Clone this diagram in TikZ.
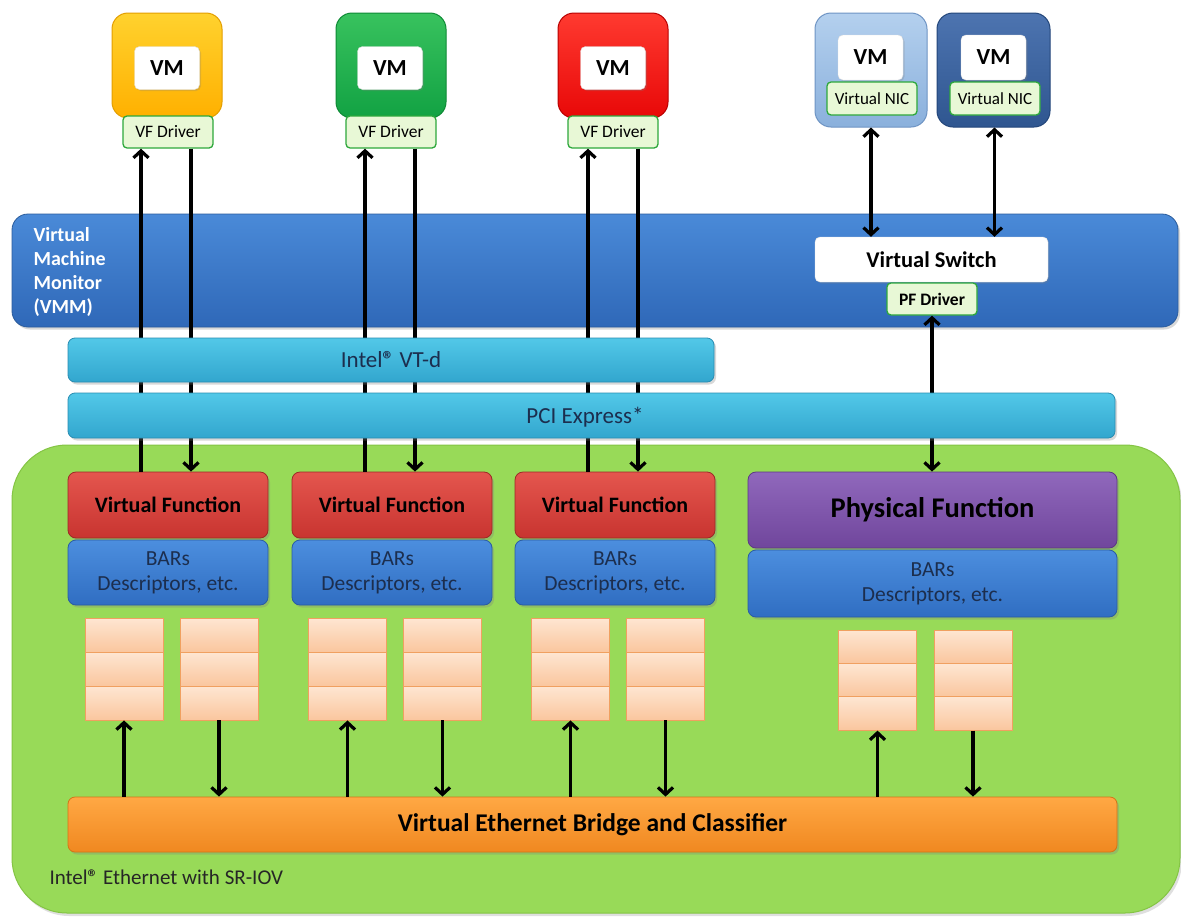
\documentclass[tikz,border=0pt]{standalone}
\usepackage{fontspec}
\setmainfont{Carlito}
\usetikzlibrary{arrows.meta,shadows}
\definecolor{ylwT}{HTML}{FFD22E}\definecolor{ylwB}{HTML}{FFB000}\definecolor{ylwD}{HTML}{E39E00}
\definecolor{grnT}{HTML}{38C25E}\definecolor{grnB}{HTML}{12A243}\definecolor{grnD}{HTML}{0E8A35}
\definecolor{redT}{HTML}{FF3A30}\definecolor{redB}{HTML}{E80808}\definecolor{redD}{HTML}{B80000}
\definecolor{lbT}{HTML}{B4D0EE}\definecolor{lbB}{HTML}{8AB0DC}\definecolor{lbD}{HTML}{6E94C4}
\definecolor{dbT}{HTML}{4D74B0}\definecolor{dbB}{HTML}{2F5690}\definecolor{dbD}{HTML}{23467A}
\definecolor{drvF}{HTML}{E8F8D6}\definecolor{drvD}{HTML}{2EA83C}
\definecolor{vmmT}{HTML}{4A8AD8}\definecolor{vmmB}{HTML}{2F68B8}\definecolor{vmmD}{HTML}{2B5C9C}
\definecolor{cyT}{HTML}{52C8E8}\definecolor{cyB}{HTML}{32A6CE}\definecolor{cyD}{HTML}{2A8DB2}
\definecolor{bgF}{HTML}{98DA58}\definecolor{bgD}{HTML}{84C444}
\definecolor{vfT}{HTML}{E4564E}\definecolor{vfB}{HTML}{C83430}\definecolor{vfD}{HTML}{9C2A26}
\definecolor{brT}{HTML}{4C8EDE}\definecolor{brB}{HTML}{306EC2}\definecolor{brD}{HTML}{2A5CA4}
\definecolor{pfT}{HTML}{9068BC}\definecolor{pfB}{HTML}{70469C}\definecolor{pfD}{HTML}{5C3884}
\definecolor{clT}{HTML}{FEE6D2}\definecolor{clB}{HTML}{FAC69E}\definecolor{clD}{HTML}{F0A060}
\definecolor{orT}{HTML}{FFA844}\definecolor{orB}{HTML}{F08820}\definecolor{orD}{HTML}{D47416}
\definecolor{navytxt}{HTML}{1C2E4E}
\newcommand{\regmark}{{\bfseries ®}}
\begin{document}
\begin{tikzpicture}[x=1pt,y=-1pt,
  box/.style={inner sep=0pt, rounded corners=#1},
  vmbox/.style args={#1/#2/#3}{box=16pt, top color=#1, bottom color=#2, draw=#3, line width=1pt,
     minimum width=110pt, minimum height=105pt},
  vmlabel/.style={box=5pt, fill=white, draw=black!12, minimum width=65pt, minimum height=43pt,
     font=\fontsize{23}{27}\selectfont\bfseries, drop shadow={opacity=0.25,shadow xshift=1.5pt,shadow yshift=-1.5pt}},
  drvbox/.style={box=4pt, fill=drvF, draw=drvD, line width=1.3pt, minimum width=90pt, minimum height=32pt,
     font=\fontsize{17.5}{20}\selectfont},
  bar/.style args={#1/#2/#3}{top color=#1, bottom color=#2, draw=#3, line width=0.8pt,
     drop shadow={opacity=0.3,shadow xshift=2pt,shadow yshift=-2.5pt}},
  vfbox/.style={box=8pt, bar=vfT/vfB/vfD, minimum width=200pt, minimum height=66pt,
     font=\fontsize{22}{26}\selectfont\bfseries},
  barsbox/.style={box=8pt, bar=brT/brB/brD, minimum width=200pt, minimum height=65pt, align=center,
     text=navytxt, font=\fontsize{21.5}{25}\selectfont},
  cell/.style={inner sep=0pt, top color=clT, bottom color=clB, draw=clD, line width=0.8pt,
     minimum width=78pt, minimum height=#1},
  arr/.style={line width=3.2pt, -{Straight Barb[length=7pt,width=15pt]}},
  darr/.style={line width=3.2pt, {Straight Barb[length=7pt,width=15pt]}-{Straight Barb[length=7pt,width=15pt]}}]
\useasboundingbox[fill=white] (0,0) rectangle (1181,916);

% ---- VMM layer
\node[box=16pt, bar=vmmT/vmmB/vmmD, minimum width=1166pt, minimum height=113pt] (vmm) at (595,270.5) {};
\node[anchor=west, align=left, text=white, font=\fontsize{20}{24}\selectfont\bfseries] (vmmtxt) at (30,272)
  {Virtual\\Machine\\Monitor\\(VMM)};

% ---- VMs with VF drivers
\node[vmbox=ylwT/ylwB/ylwD] (vm1) at (167,65.5) {};
\node[vmbox=grnT/grnB/grnD] (vm2) at (391,65.5) {};
\node[vmbox=redT/redB/redD] (vm3) at (613,65.5) {};
\node[vmlabel] (vl1) at (167,68) {VM};
\node[vmlabel] (vl2) at (390,68) {VM};
\node[vmlabel] (vl3) at (613,68) {VM};
\node[drvbox] (drv1) at (168,132) {VF Driver};
\node[drvbox] (drv2) at (391,132) {VF Driver};
\node[drvbox] (drv3) at (613,132) {VF Driver};

% ---- VMs with virtual NICs
\node[vmbox=lbT/lbB/lbD, minimum width=112pt, minimum height=114pt] (vm4) at (871,70) {};
\node[vmbox=dbT/dbB/dbD, minimum width=113pt, minimum height=114pt] (vm5) at (993.5,70) {};
\node[vmlabel, minimum height=45pt] (vl4) at (870.5,57.5) {VM};
\node[vmlabel, minimum height=45pt] (vl5) at (993.5,57.5) {VM};
\node[drvbox, minimum height=33pt, font=\fontsize{17}{20}\selectfont] (nic1) at (872,98.5) {Virtual NIC};
\node[drvbox, minimum height=33pt, font=\fontsize{17}{20}\selectfont] (nic2) at (995,98.5) {Virtual NIC};

\node[box=5pt, fill=white, draw=black!12, minimum width=233pt, minimum height=45pt,
  font=\fontsize{22.5}{26}\selectfont\bfseries,
  drop shadow={opacity=0.25,shadow xshift=1.5pt,shadow yshift=-1.5pt}] (vsw) at (931.5,259.5) {Virtual Switch};
\node[drvbox, font=\fontsize{17.5}{20}\selectfont\bfseries] (pfd) at (932,299) {PF Driver};

% ---- NIC hardware
\node[box=55pt, fill=bgF, draw=bgD, line width=1pt, minimum width=1168pt, minimum height=468pt,
  drop shadow={opacity=0.25,shadow xshift=2pt,shadow yshift=-3pt}] (nic) at (596,679) {};
\node[anchor=west, font=\fontsize{21}{24}\selectfont, text=black!85] (niclbl) at (46,877) {Intel\regmark{} Ethernet with SR-IOV};

\node[vfbox] (vf1) at (168,505) {Virtual Function};
\node[vfbox] (vf2) at (392,505) {Virtual Function};
\node[vfbox] (vf3) at (615,505) {Virtual Function};
\node[barsbox] (bars1) at (168,572.5) {BARs\\Descriptors, etc.};
\node[barsbox] (bars2) at (392,572.5) {BARs\\Descriptors, etc.};
\node[barsbox] (bars3) at (615,572.5) {BARs\\Descriptors, etc.};
\node[box=8pt, bar=pfT/pfB/pfD, minimum width=369pt, minimum height=76pt,
  font=\fontsize{28.5}{32}\selectfont\bfseries] (pf) at (932.5,510) {Physical Function};
\node[barsbox, minimum width=369pt, minimum height=67pt] (pfbars) at (932.5,583.5) {BARs\\Descriptors, etc.};

% queues
\foreach \n/\x/\y/\h in {a/124/618/34, b/219/618/34, c/347.5/618/34, d/442.5/618/34,
    e/570.5/618/34, f/665.5/618/34, g/877.5/630/33.4, h/973/630/33.4} {
  \foreach \k in {0,1,2} {
    \node[cell=\h pt] (q\n\k) at (\x,{\y+\h/2+\h*\k}) {};
  }
}

\node[box=7pt, bar=orT/orB/orD, minimum width=1049pt, minimum height=55pt,
  font=\fontsize{25.5}{28}\selectfont\bfseries] (veb) at (592.5,824.5) {Virtual Ethernet Bridge and Classifier};

% ---- PF path (partly hidden by PCI Express bar)
\draw[darr] (pfd.south) -- (pfd.south |- pf.north);

% ---- VF data paths (passing behind VT-d and PCI Express bars)
\foreach \i in {1,2,3} {
  \coordinate (up\i) at ([xshift=-27pt]vf\i.north);
  \coordinate (dn\i) at ([xshift=23pt]vf\i.north);
  \draw[arr] (up\i) -- (up\i |- drv\i.south);
  \draw[arr] (dn\i |- drv\i.south) -- (dn\i);
}

% ---- VT-d and PCI Express
\node[box=7pt, bar=cyT/cyB/cyD, minimum width=646pt, minimum height=44pt,
  font=\fontsize{23}{26}\selectfont, text=navytxt] (vtd) at (391,360) {Intel\regmark{} VT-d};
\node[box=7pt, bar=cyT/cyB/cyD, minimum width=1047pt, minimum height=45pt,
  text=navytxt] (pcie) at (591.5,415.5) {};
\node[font=\fontsize{23}{26}\selectfont, text=navytxt] (pcietxt) at (585,417) {PCI Express*};

% ---- virtual NIC to switch
\draw[darr] (vm4.south) -- (vm4.south |- vsw.north);
\draw[darr] ([xshift=1pt]vm5.south) -- ([xshift=1pt]vm5.south |- vsw.north);

% ---- queues to bridge
\foreach \u/\d in {a/b, c/d, e/f, g/h} {
  \draw[arr] (q\u2.south |- veb.north) -- (q\u2.south);
  \draw[arr] (q\d2.south) -- (q\d2.south |- veb.north);
}
\end{tikzpicture}
\end{document}
